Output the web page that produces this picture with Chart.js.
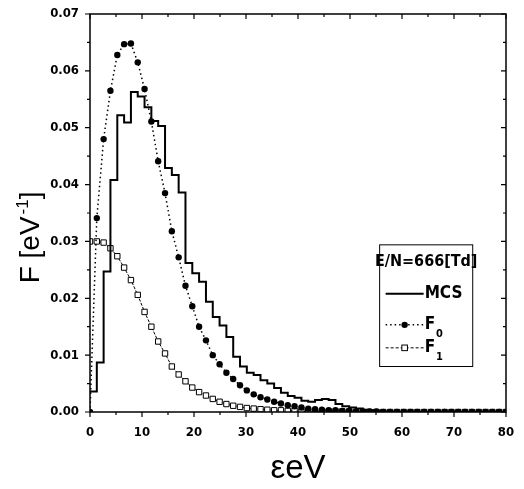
<!DOCTYPE html>
<html>
<head>
<meta charset="utf-8">
<script src="https://cdn.jsdelivr.net/npm/chart.js@4.4.0/dist/chart.umd.min.js"></script>
<style>
html,body{margin:0;padding:0;background:#fff;}
canvas{display:block;}
</style>
</head>
<body>
<canvas id="c" width="524" height="489"></canvas>
<script>
// Energy grid (eV)
const energies = [0, 1.31, 2.62, 3.93, 5.25, 6.56, 7.87, 9.18, 10.49, 11.8,
  13.11, 14.43, 15.74, 17.05, 18.36, 19.67, 20.98, 22.3, 23.61, 24.92,
  26.23, 27.54, 28.85, 30.16, 31.48, 32.79, 34.1, 35.41, 36.72, 38.03,
  39.34, 40.66, 41.97, 43.28, 44.59, 45.9, 47.21, 48.52, 49.84, 51.15,
  52.46, 53.77, 55.08, 56.39, 57.7, 59.02, 60.33, 61.64, 62.95, 64.26,
  65.57, 66.89, 68.2, 69.51, 70.82, 72.13, 73.44, 74.75, 76.07, 77.38,
  78.69, 80];

// MCS histogram (value of the bin starting at each energy)
const mcs = [0.0036, 0.0087, 0.0247, 0.0408, 0.0522, 0.0509, 0.0563, 0.0555, 0.0536, 0.0512,
  0.0503, 0.0429, 0.0417, 0.0386, 0.0262, 0.0244, 0.0229, 0.0194, 0.0167, 0.0152,
  0.0132, 0.0097, 0.0080, 0.0069, 0.0065, 0.0056, 0.0050, 0.0042, 0.0034, 0.0028,
  0.0025, 0.0020, 0.0018, 0.0021, 0.0023, 0.0021, 0.0014, 0.0010, 0.0008, 0.0006,
  0.0004, 0.0003, 0.0002, 0.0001, 0.0001, 0, 0, 0, 0, 0,
  0, 0, 0, 0, 0, 0, 0, 0, 0, 0,
  0, 0];

// F0
const f0 = [0.0000, 0.0341, 0.0480, 0.0565, 0.0628, 0.0647, 0.0648, 0.0615, 0.0568, 0.0511,
  0.0441, 0.0385, 0.0318, 0.0272, 0.0222, 0.0186, 0.0150, 0.0126, 0.0100, 0.0084,
  0.0069, 0.0058, 0.0047, 0.0038, 0.0031, 0.0026, 0.0022, 0.0018, 0.0015, 0.0012,
  0.0010, 0.0008, 0.0006, 0.0005, 0.0004, 0.0003, 0.0003, 0.0002, 0.0002, 0.0001,
  0.0001, 0.0001, 0.0001, 0, 0, 0, 0, 0, 0, 0,
  0, 0, 0, 0, 0, 0, 0, 0, 0, 0,
  0, 0];

// F1
const f1 = [0.0300, 0.0300, 0.0298, 0.0288, 0.0274, 0.0254, 0.0232, 0.0206, 0.0176, 0.0150,
  0.0124, 0.0103, 0.0080, 0.0066, 0.0054, 0.0043, 0.0035, 0.0029, 0.0023, 0.0018,
  0.0014, 0.0011, 0.0009, 0.0007, 0.0006, 0.0005, 0.0004, 0.0003, 0.0003, 0.0002,
  0.0002, 0.0001, 0.0001, 0.0001, 0.0001, 0.0001, 0.0001, 0.0001, 0.0001, 0,
  0, 0, 0, 0, 0, 0, 0, 0, 0, 0,
  0, 0, 0, 0, 0, 0, 0, 0, 0, 0,
  0, 0];

const xTicks = [0, 10, 20, 30, 40, 50, 60, 70, 80];
const yTicks = [0, 0.01, 0.02, 0.03, 0.04, 0.05, 0.06, 0.07];
const legendTitle = 'E/N=666[Td]';
const seriesNames = ['MCS', 'F', 'F'];
const seriesSubs = ['', '0', '1'];
const yTitleParts = ['F [eV', '-1', ']'];
const xTitle = 'εeV';

const FONT = "'Liberation Sans Narrow', 'DejaVu Sans Condensed', 'Liberation Sans', sans-serif";
const TFONT = "'Liberation Sans', Arial, sans-serif";

const toXY = arr => energies.map((e, i) => ({x: e, y: arr[i]}));

const frameTicks = {
  id: 'frameTicks',
  afterDraw(chart) {
    const {ctx, chartArea: a, scales: {x, y}} = chart;
    ctx.save();
    ctx.strokeStyle = '#000';
    ctx.lineWidth = 1.5;
    ctx.strokeRect(a.left, a.top, a.right - a.left, a.bottom - a.top);
    ctx.lineWidth = 1.2;
    ctx.beginPath();
    for (let v = 0; v <= 80; v += 5) {
      const px = x.getPixelForValue(v);
      const len = (v % 10 === 0) ? 5 : 3;
      ctx.moveTo(px, a.bottom); ctx.lineTo(px, a.bottom + len);
      ctx.moveTo(px, a.top); ctx.lineTo(px, a.top + len);
    }
    for (let i = 0; i <= 14; i++) {
      const v = i * 0.005;
      const py = y.getPixelForValue(v);
      const len = (i % 2 === 0) ? 5 : 3;
      ctx.moveTo(a.left, py); ctx.lineTo(a.left - len, py);
      ctx.moveTo(a.right, py); ctx.lineTo(a.right - len, py);
    }
    ctx.stroke();
    ctx.restore();
  }
};

// Y axis title, placed slightly below the axis centre as in the original
const yTitle = {
  id: 'yTitle',
  afterDraw(chart) {
    const {ctx, scales: {y}} = chart;
    const cy = y.getPixelForValue(0.0307);
    ctx.save();
    ctx.translate(29, cy);
    ctx.rotate(-Math.PI / 2);
    ctx.fillStyle = '#000';
    ctx.textBaseline = 'alphabetic';
    ctx.font = '28px ' + TFONT;
    const w0 = ctx.measureText(yTitleParts[0]).width;
    const w2 = ctx.measureText(yTitleParts[2]).width;
    ctx.font = '17px ' + TFONT;
    const w1 = ctx.measureText(yTitleParts[1]).width;
    const total = w0 + 2 + w1 + w2;
    let xx = -total / 2;
    const base = 10;
    ctx.font = '28px ' + TFONT;
    ctx.fillText(yTitleParts[0], xx, base);
    xx += w0 + 2;
    ctx.font = '17px ' + TFONT;
    ctx.fillText(yTitleParts[1], xx, base - 11);
    xx += w1;
    ctx.font = '28px ' + TFONT;
    ctx.fillText(yTitleParts[2], xx, base);
    ctx.restore();
  }
};

const boxLegend = {
  id: 'boxLegend',
  afterDraw(chart) {
    const {ctx, scales: {x, y}} = chart;
    const left = x.getPixelForValue(55.7), right = x.getPixelForValue(73.6);
    const top = y.getPixelForValue(0.0294), bottom = y.getPixelForValue(0.0080);
    ctx.save();
    ctx.fillStyle = '#fff';
    ctx.fillRect(left, top, right - left, bottom - top);
    ctx.strokeStyle = '#000';
    ctx.lineWidth = 1;
    ctx.strokeRect(left, top, right - left, bottom - top);
    ctx.fillStyle = '#000';
    ctx.textBaseline = 'middle';
    ctx.textAlign = 'center';
    ctx.font = 'bold 16px ' + FONT;
    ctx.fillText(legendTitle, (left + right) / 2, top + 17);
    const rows = [top + 49, top + 80, top + 103];
    const x0 = left + 6, x1 = left + 44, xm = (x0 + x1) / 2;
    ctx.lineWidth = 2;
    ctx.setLineDash([]);
    ctx.beginPath(); ctx.moveTo(x0, rows[0]); ctx.lineTo(x1, rows[0]); ctx.stroke();
    ctx.lineWidth = 1.5;
    ctx.setLineDash([1.5, 3]);
    ctx.beginPath(); ctx.moveTo(x0, rows[1]); ctx.lineTo(x1, rows[1]); ctx.stroke();
    ctx.setLineDash([]);
    ctx.beginPath(); ctx.arc(xm, rows[1], 3.2, 0, Math.PI * 2); ctx.fill();
    ctx.lineWidth = 1;
    ctx.setLineDash([3, 2]);
    ctx.beginPath(); ctx.moveTo(x0, rows[2]); ctx.lineTo(x1, rows[2]); ctx.stroke();
    ctx.setLineDash([]);
    ctx.fillStyle = '#fff';
    ctx.fillRect(xm - 2.8, rows[2] - 2.8, 5.6, 5.6);
    ctx.strokeRect(xm - 2.8, rows[2] - 2.8, 5.6, 5.6);
    ctx.fillStyle = '#000';
    ctx.textAlign = 'left';
    for (let i = 0; i < 3; i++) {
      ctx.font = 'bold 17px ' + FONT;
      ctx.fillText(seriesNames[i], x1 + 1, rows[i]);
      if (seriesSubs[i]) {
        const w = ctx.measureText(seriesNames[i]).width;
        ctx.font = 'bold 11px ' + FONT;
        ctx.fillText(seriesSubs[i], x1 + 2 + w, rows[i] + 9);
      }
    }
    ctx.restore();
  }
};

new Chart(document.getElementById('c'), {
  type: 'line',
  data: {
    datasets: [
      {
        label: 'MCS',
        data: toXY(mcs),
        stepped: 'before',
        borderColor: '#000',
        borderWidth: 2,
        pointRadius: 0,
        fill: false
      },
      {
        label: 'F0',
        data: toXY(f0),
        borderColor: '#000',
        borderWidth: 1.5,
        borderDash: [1.5, 3],
        pointRadius: 3.2,
        pointBackgroundColor: '#000',
        pointBorderColor: '#000',
        pointBorderWidth: 0,
        tension: 0,
        fill: false
      },
      {
        label: 'F1',
        data: toXY(f1),
        borderColor: '#000',
        borderWidth: 1,
        borderDash: [3, 1.5],
        pointStyle: 'rect',
        pointRadius: 3.8,
        pointBackgroundColor: '#fff',
        pointBorderColor: '#000',
        pointBorderWidth: 1,
        tension: 0,
        fill: false
      }
    ]
  },
  options: {
    responsive: false,
    animation: false,
    devicePixelRatio: 1,
    layout: {padding: {left: 0, top: 14, right: 18, bottom: 0}},
    plugins: {legend: {display: false}, tooltip: {enabled: false}},
    scales: {
      x: {
        type: 'linear',
        min: 0, max: 80,
        afterFit: s => { s.height = 77; s.paddingLeft = 0; s.paddingRight = 0; },
        afterBuildTicks: s => { s.ticks = xTicks.map(v => ({value: v})); },
        grid: {display: false, drawTicks: false},
        border: {display: false},
        ticks: {
          padding: 13,
          color: '#000',
          font: {family: FONT, size: 13, weight: 'bold'},
          maxRotation: 0,
          callback: v => String(v)
        },
        title: {
          display: true,
          text: xTitle,
          color: '#000',
          font: {family: TFONT, size: 33},
          padding: {bottom: 0, top: 0}
        }
      },
      y: {
        type: 'linear',
        min: 0, max: 0.07,
        afterFit: s => { s.width = 90; s.paddingTop = 0; s.paddingBottom = 0; },
        afterBuildTicks: s => { s.ticks = yTicks.map(v => ({value: v})); },
        grid: {display: false, drawTicks: false},
        border: {display: false},
        ticks: {
          padding: 11,
          color: '#000',
          font: {family: FONT, size: 13, weight: 'bold'},
          callback: v => v.toFixed(2)
        },
        title: {display: false}
      }
    }
  },
  plugins: [frameTicks, yTitle, boxLegend]
});
</script>
</body>
</html>
